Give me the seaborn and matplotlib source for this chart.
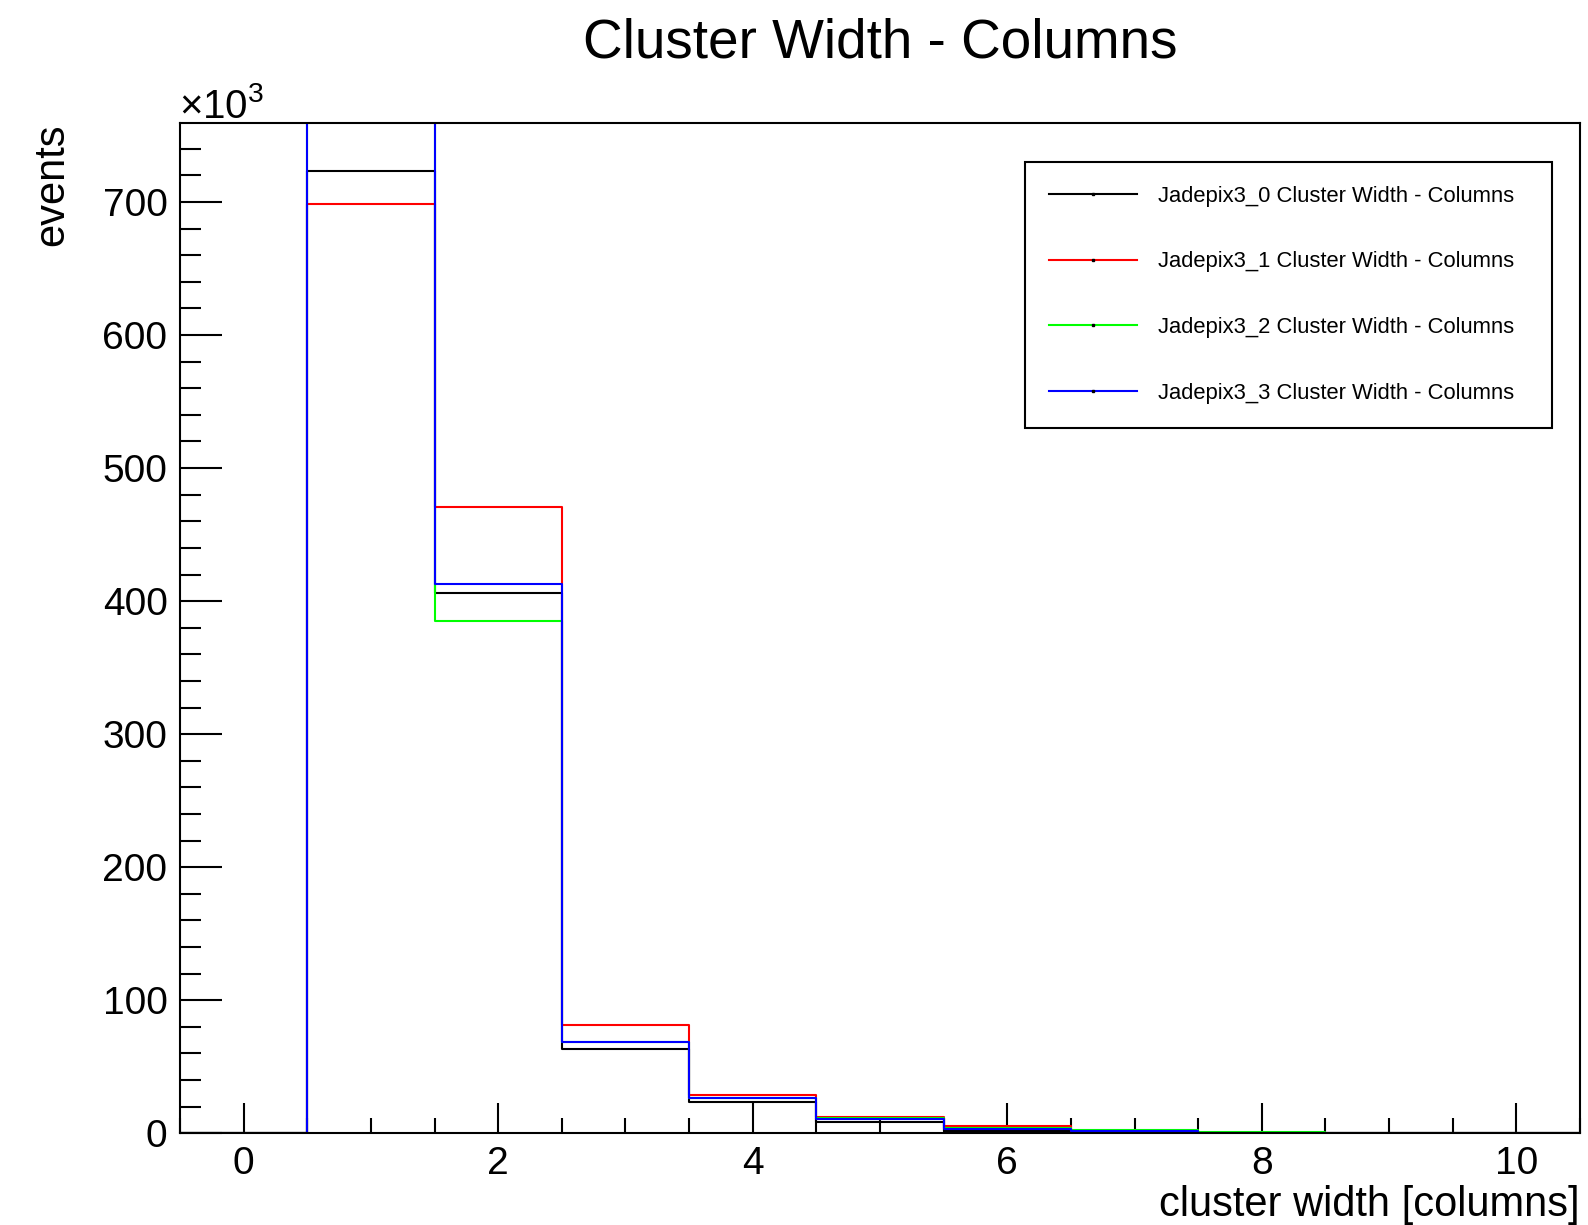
import numpy as np
import pandas as pd
import matplotlib
matplotlib.use("Agg")
import matplotlib.pyplot as plt
from matplotlib.lines import Line2D
from matplotlib.ticker import MultipleLocator, FuncFormatter
import seaborn as sns

# ---- data ----
bin_centers = [0, 1, 2, 3, 4, 5, 6, 7, 8, 9, 10]
bin_edges = [-0.5, 0.5, 1.5, 2.5, 3.5, 4.5, 5.5, 6.5, 7.5, 8.5, 9.5, 10.5]
jade0 = [0, 723000, 406000, 63400, 23800, 8700, 2000, 1000, 400, 150, 80]
jade1 = [0, 698700, 470400, 81700, 28800, 12300, 5200, 1800, 600, 200, 100]
jade2 = [0, 775000, 384700, 68600, 26800, 11300, 3800, 2200, 700, 250, 100]
jade3 = [0, 790000, 412800, 68600, 26800, 10500, 3500, 1500, 500, 200, 80]
series_names = ["Jadepix3_0 Cluster Width - Columns",
                "Jadepix3_1 Cluster Width - Columns",
                "Jadepix3_2 Cluster Width - Columns",
                "Jadepix3_3 Cluster Width - Columns"]
series_colors = ["#000000", "#ff0000", "#00ff00", "#0000ff"]

plt.rcParams["font.family"] = ["Liberation Sans", "DejaVu Sans"]
plt.rcParams["mathtext.fontset"] = "custom"
plt.rcParams["mathtext.rm"] = "Liberation Sans"
plt.rcParams["mathtext.it"] = "Liberation Sans"

W, H = 1588, 1225
fig = plt.figure(figsize=(W / 100, H / 100), dpi=100)
ax_l, ax_r, ax_t, ax_b = 180, 1580, 123.3, 1133.3
ax = fig.add_axes([ax_l / W, 1 - ax_b / H, (ax_r - ax_l) / W, (ax_b - ax_t) / H])

all_series = [jade0, jade1, jade2, jade3]
for vals, name, col in zip(all_series, series_names, series_colors):
    df = pd.DataFrame({"x": bin_centers, "w": vals})
    sns.histplot(data=df, x="x", weights="w", bins=bin_edges, element="step",
                 fill=False, color=col, linewidth=1.5, ax=ax)

ax.set_xlim(-0.5, 10.5)
ax.set_ylim(0, 1.05 * max(jade0))

for s in ax.spines.values():
    s.set_linewidth(1.5)
    s.set_color("black")

ax.xaxis.set_major_locator(MultipleLocator(2))
ax.xaxis.set_minor_locator(MultipleLocator(0.5))
ax.yaxis.set_major_locator(MultipleLocator(100000))
ax.yaxis.set_minor_locator(MultipleLocator(20000))
ax.yaxis.set_major_formatter(FuncFormatter(lambda v, p: f"{v/1000:.0f}"))
ax.tick_params(axis="x", which="major", direction="in", length=21.6, width=1.5,
               labelsize=28, pad=9, top=False)
ax.tick_params(axis="x", which="minor", direction="in", length=10.8, width=1.5, top=False)
ax.tick_params(axis="y", which="major", direction="in", length=30, width=1.5,
               labelsize=28, pad=9, right=False)
ax.tick_params(axis="y", which="minor", direction="in", length=15, width=1.5, right=False)

ax.set_xlabel("cluster width [columns]", fontsize=30, ha="right")
ax.xaxis.set_label_coords(1.0, -0.051)
ax.set_ylabel("events", fontsize=30, ha="right")
ax.yaxis.set_label_coords(-0.077, 1.0)

ax.text(-0.001, 1.0048, "×10$^{3}$", transform=ax.transAxes, fontsize=29,
        ha="left", va="baseline")

fig.text(880 / W, 1 - 58 / H, "Cluster Width - Columns", fontsize=39.5,
         ha="center", va="baseline")

handles = [Line2D([0], [0], color=c, linewidth=1.5, marker="s", markersize=1.5,
                  markerfacecolor="black", markeredgecolor="black")
           for c in series_colors]
leg = ax.legend(handles, series_names, loc="upper left",
                bbox_to_anchor=(0.6036, 0.701, 0.3764, 0.2607), mode="expand",
                borderaxespad=0, fontsize=15.85, frameon=True, fancybox=False,
                edgecolor="black", framealpha=1, borderpad=1.08, labelspacing=2.03,
                handlelength=4.0, handletextpad=0.95)
leg.get_frame().set_linewidth(1.5)

fig.savefig("out.png", dpi=100)
